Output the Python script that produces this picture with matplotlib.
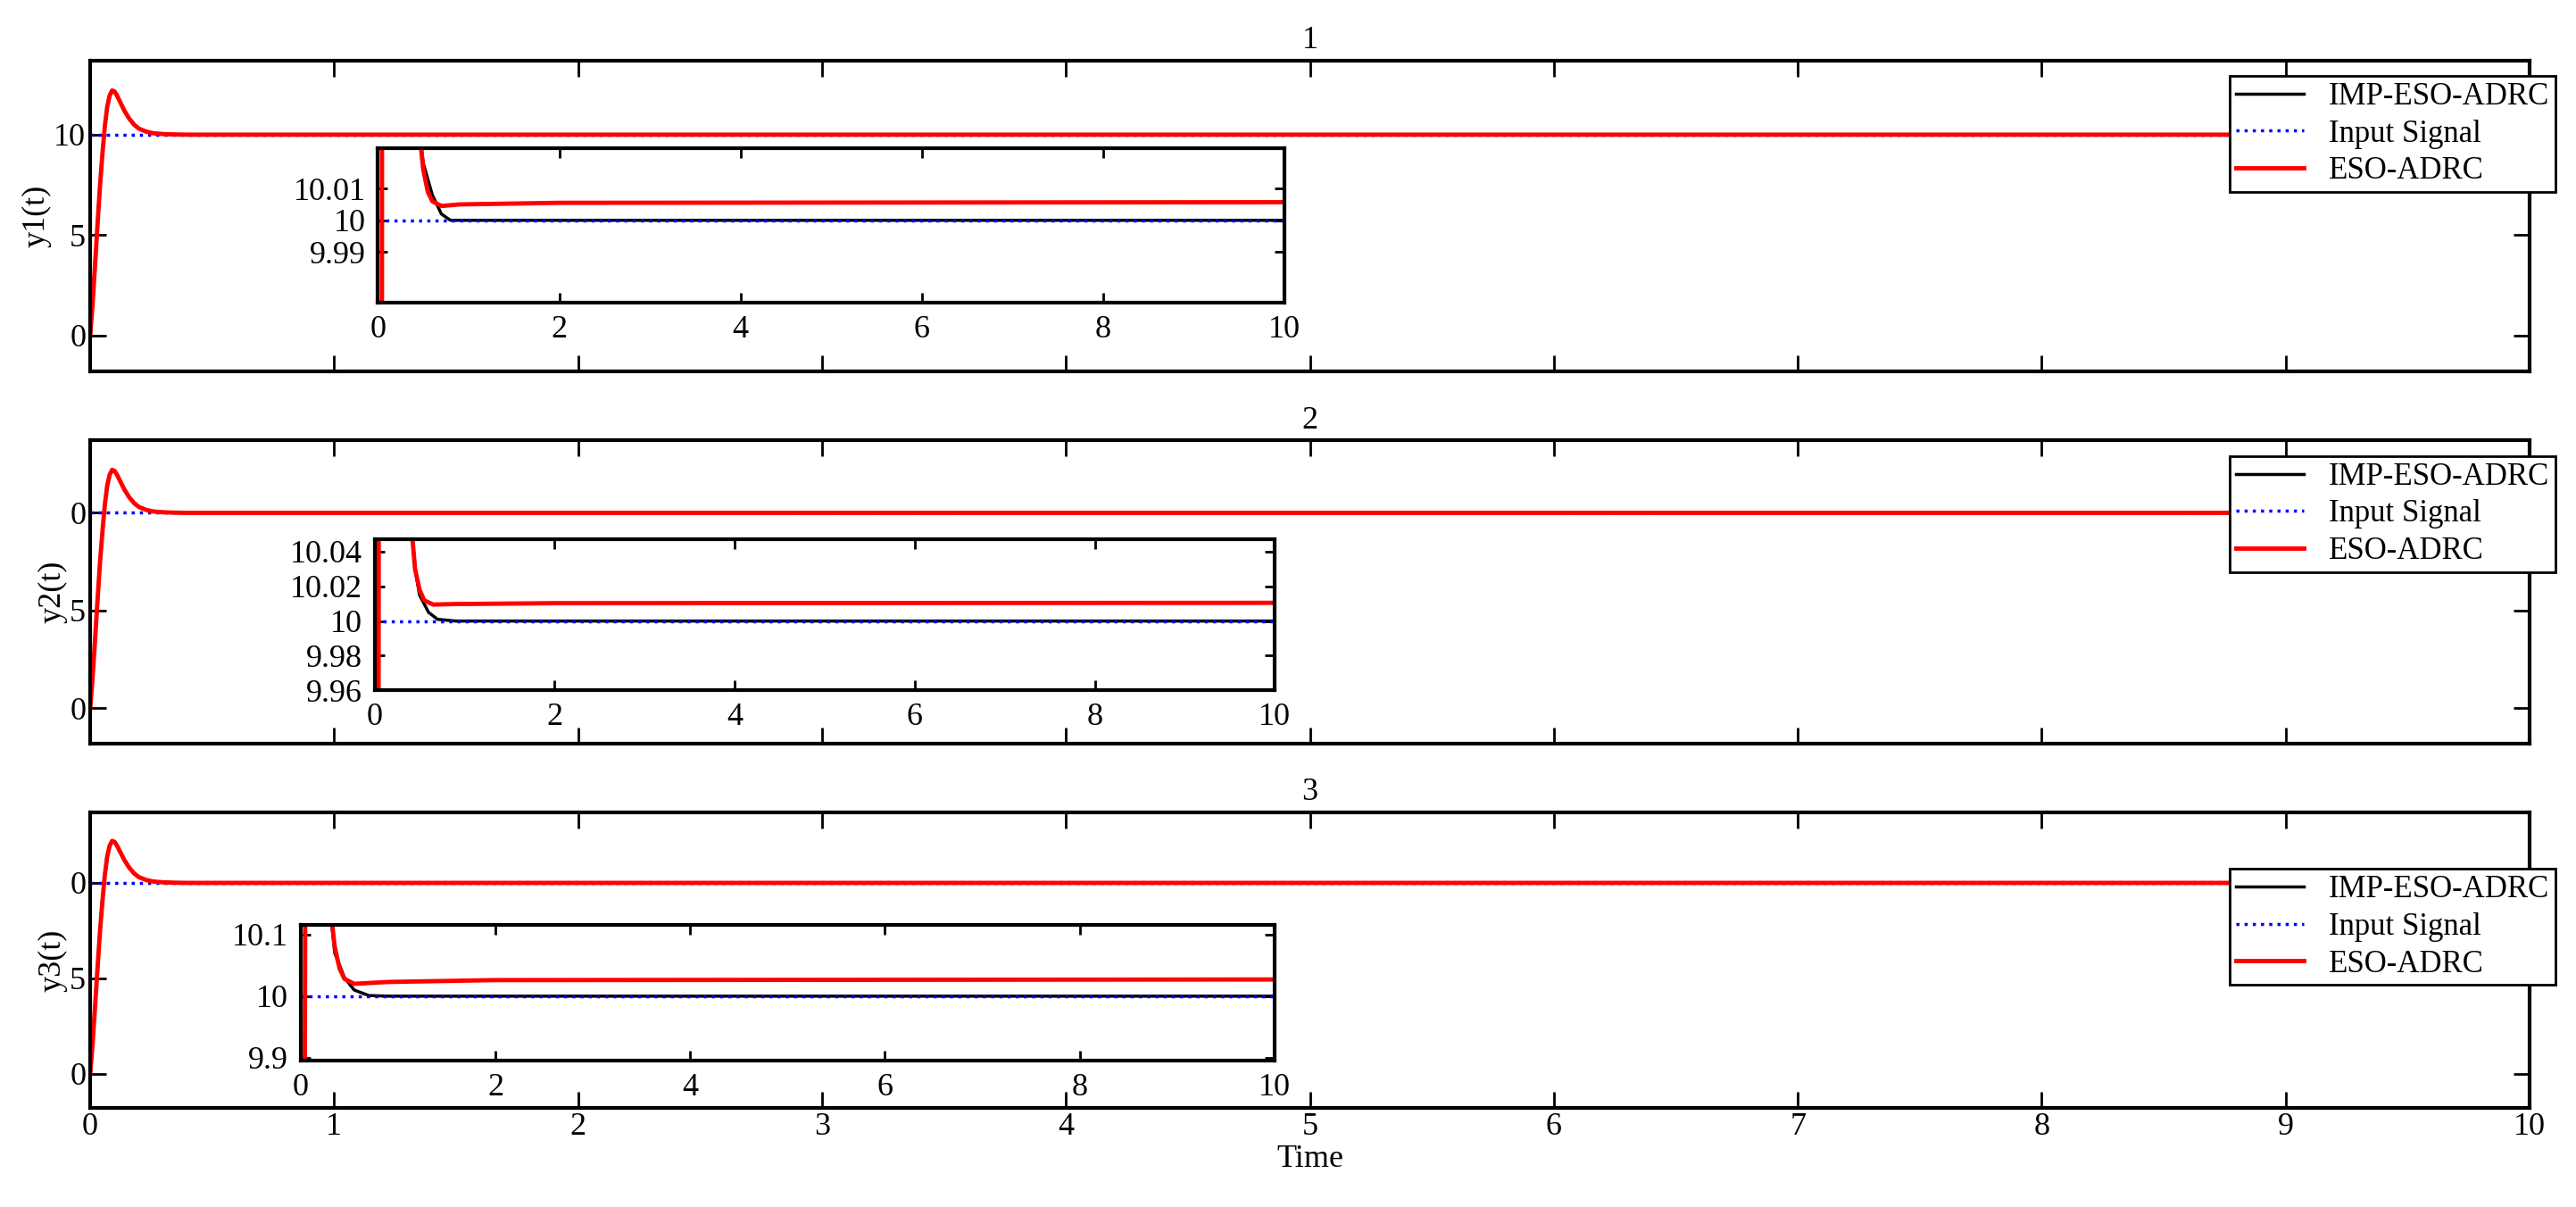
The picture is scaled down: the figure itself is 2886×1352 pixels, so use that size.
import matplotlib.pyplot as plt

plt.rcParams['font.family'] = ['Liberation Serif', 'DejaVu Serif']
plt.rcParams['font.size'] = 26

# main step responses
t_main = [0, 0.01, 0.02, 0.03, 0.04, 0.05, 0.06, 0.07, 0.08, 0.09, 0.1, 0.11, 0.12,
          0.14, 0.16, 0.18, 0.2, 0.23, 0.26, 0.3, 0.35, 0.4, 0.5, 10]
y_main = [0, 1.6, 3.5, 5.5, 7.4, 9.0, 10.4, 11.4, 11.95, 12.2, 12.15, 11.95, 11.7,
          11.2, 10.8, 10.5, 10.3, 10.15, 10.07, 10.03, 10.01, 10.0, 10.0, 10.0]
t_ref = [0, 10]
y_ref = [10, 10]

# inset zooms: red = ESO-ADRC, black = IMP-ESO-ADRC
in_t_red = [
    [0.03, 0.06, 0.3, 0.45, 0.5, 0.55, 0.6, 0.7, 0.9, 2, 10],
    [0.03, 0.06, 0.3, 0.4, 0.45, 0.5, 0.55, 0.65, 0.9, 2, 10],
    [0.03, 0.06, 0.2, 0.3, 0.35, 0.4, 0.45, 0.55, 0.9, 2, 10],
]
in_y_red = [
    [9.0, 11.0, 10.5, 10.03, 10.016, 10.009, 10.006, 10.0045, 10.005, 10.0055, 10.0057],
    [9.0, 11.0, 10.5, 10.06, 10.03, 10.018, 10.012, 10.0095, 10.0098, 10.0103, 10.0105],
    [9.0, 11.0, 10.8, 10.15, 10.08, 10.045, 10.028, 10.02, 10.023, 10.026, 10.027],
]
in_t_blk = [
    [0.03, 0.06, 0.3, 0.45, 0.5, 0.6, 0.7, 0.8, 1, 10],
    [0.03, 0.06, 0.3, 0.4, 0.45, 0.5, 0.6, 0.7, 0.9, 10],
    [0.03, 0.06, 0.2, 0.3, 0.35, 0.45, 0.55, 0.7, 0.9, 10],
]
in_y_blk = [
    [9.0, 11.0, 10.5, 10.03, 10.018, 10.008, 10.002, 10.0, 10.0, 10.0],
    [9.0, 11.0, 10.5, 10.06, 10.03, 10.015, 10.005, 10.001, 10.0, 10.0],
    [9.0, 11.0, 10.8, 10.15, 10.07, 10.03, 10.01, 10.001, 10.0, 10.0],
]
in_ylim = [(9.974, 10.0226), (9.96, 10.047), (9.895, 10.116)]
in_yticks = [[9.99, 10, 10.01], [9.96, 9.98, 10, 10.02, 10.04], [9.9, 10, 10.1]]
in_yticklabels = [['9.99', '10', '10.01'], ['9.96', '9.98', '10', '10.02', '10.04'],
                  ['9.9', '10', '10.1']]
main_yticklabels = [['0', '5', '10'], ['0', '5', '0'], ['0', '5', '0']]

main_pos = [[0.035, 0.692, 0.947, 0.258], [0.035, 0.384, 0.947, 0.251], [0.035, 0.082, 0.947, 0.245]]
inset_pos = [[0.1467, 0.749, 0.352, 0.128], [0.1454, 0.428, 0.3495, 0.125], [0.1167, 0.121, 0.378, 0.113]]
leg_top = [0.950, 0.635, 0.293]

fig = plt.figure(figsize=(28.86, 13.52), dpi=100)

def style(ax):
    for s in ax.spines.values():
        s.set_linewidth(3)
    ax.tick_params(direction='in', length=13, width=2, top=True, right=True)

for i in range(3):
    ax = fig.add_axes(main_pos[i])
    ax.plot(t_main, y_main, color='black', lw=2.5, label='IMP-ESO-ADRC')
    ax.plot(t_ref, y_ref, color='blue', lw=2.5, ls=':', label='Input Signal')
    ax.plot(t_main, y_main, color='red', lw=3.5, label='ESO-ADRC')
    ax.set_xlim(0, 10)
    ax.set_ylim(-1.8, 13.7)
    ax.set_yticks([0, 5, 10])
    ax.set_yticklabels(main_yticklabels[i])
    ax.set_xticks(range(11))
    if i < 2:
        ax.set_xticklabels([])
    else:
        ax.set_xlabel('Time', labelpad=2)
    ax.set_ylabel('y%d(t)' % (i + 1), labelpad=2)
    ax.set_title(str(i + 1), fontsize=26, pad=10)
    style(ax)
    leg = fig.legend(*ax.get_legend_handles_labels(), loc='upper right',
                     bbox_to_anchor=(0.998, leg_top[i]), fancybox=False,
                     edgecolor='black', framealpha=1, fontsize=25,
                     borderpad=0.2, labelspacing=0.25, handlelength=2.2)
    leg.get_frame().set_linewidth(2)

    ins = fig.add_axes(inset_pos[i])
    ins.plot(in_t_blk[i], in_y_blk[i], color='black', lw=2.5)
    ins.plot(t_ref, y_ref, color='blue', lw=2.5, ls=':')
    ins.plot(in_t_red[i], in_y_red[i], color='red', lw=3.5)
    ins.set_xlim(0, 10)
    ins.set_ylim(*in_ylim[i])
    ins.set_xticks([0, 2, 4, 6, 8, 10])
    ins.set_yticks(in_yticks[i])
    ins.set_yticklabels(in_yticklabels[i])
    style(ins)
    ins.tick_params(length=8, pad=10)

fig.savefig('out.png')
